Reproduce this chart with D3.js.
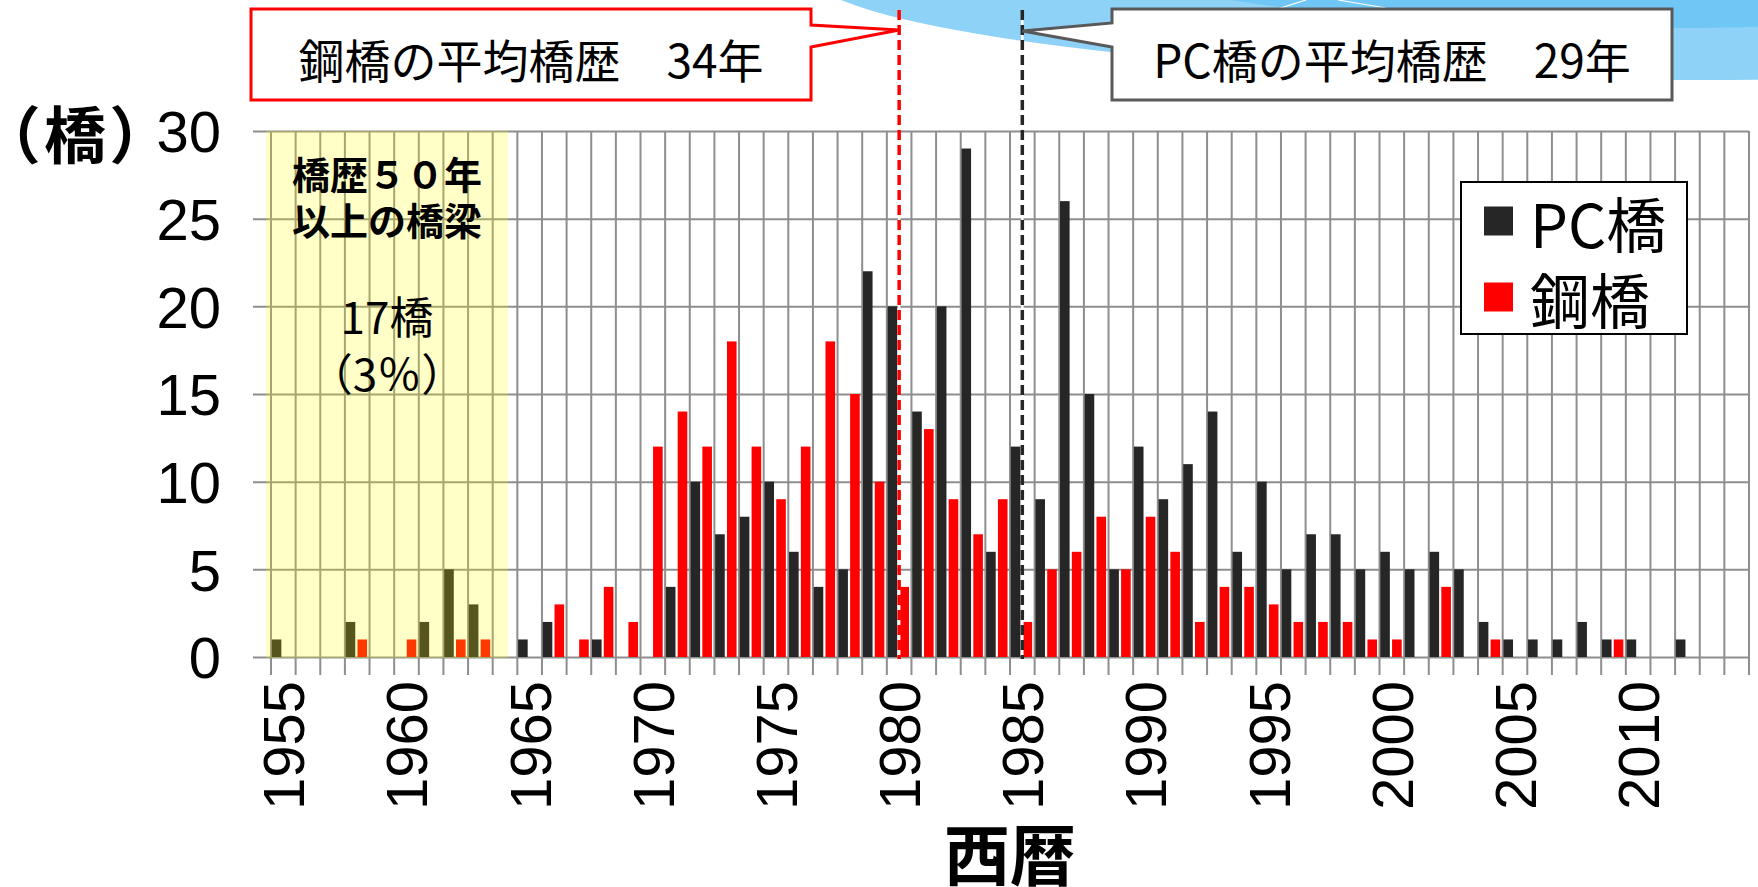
<!DOCTYPE html>
<html>
<head>
<meta charset="utf-8">
<script src="https://cdn.jsdelivr.net/npm/d3@7/dist/d3.min.js"></script>
<style>
body { margin: 0; background: #fff; }
</style>
</head>
<body>
<div id="chart"></div>
<script>
// 橋梁の架設年別分布 (PC橋 / 鋼橋)

var years = [1955, 1956, 1957, 1958, 1959, 1960, 1961, 1962, 1963, 1964,
  1965, 1966, 1967, 1968, 1969, 1970, 1971, 1972, 1973, 1974,
  1975, 1976, 1977, 1978, 1979, 1980, 1981, 1982, 1983, 1984,
  1985, 1986, 1987, 1988, 1989, 1990, 1991, 1992, 1993, 1994,
  1995, 1996, 1997, 1998, 1999, 2000, 2001, 2002, 2003, 2004,
  2005, 2006, 2007, 2008, 2009, 2010, 2011, 2012, 2013, 2014];

var pcBridges = [1, 0, 0, 2, 0, 0, 2, 5, 3, 0,
  1, 2, 0, 1, 0, 0, 4, 10, 7, 8,
  10, 6, 4, 5, 22, 20, 14, 20, 29, 6,
  12, 9, 26, 15, 5, 12, 9, 11, 14, 6,
  10, 5, 7, 7, 5, 6, 5, 6, 5, 2,
  1, 1, 1, 2, 1, 1, 0, 1, 0, 0];

var steelBridges = [0, 0, 0, 1, 0, 1, 0, 1, 1, 0,
  0, 3, 1, 4, 2, 12, 14, 12, 18, 12,
  9, 12, 18, 15, 10, 4, 13, 9, 7, 9,
  2, 5, 6, 8, 5, 8, 6, 2, 4, 4,
  3, 2, 2, 2, 1, 1, 0, 4, 0, 1,
  0, 0, 0, 0, 1, 0, 0, 0, 0, 0];

var yearLabels = [1955, 1960, 1965, 1970, 1975, 1980, 1985, 1990, 1995, 2000, 2005, 2010];
var yTicks = [0, 5, 10, 15, 20, 25, 30];

var seriesNames = ["PC橋", "鋼橋"];
var seriesColors = ["#262626", "#ff0000"];

var steelAvgYear = 1980;
var pcAvgYear = 1985;
var steelAvgText = "鋼橋の平均橋歴　34年";
var pcAvgText = "PC橋の平均橋歴　29年";

var oldRange = [1955, 1964];
var oldTexts = ["橋歴５０年", "以上の橋梁"];
var oldCount = ["17橋", "（3％）"];

var svgWidth = 1758;
var svgHeight = 887;

var margin = {
  top: 131,
  right: 9,
  bottom: 230,
  left: 271
};

var width = svgWidth - margin.left - margin.right;
var height = svgHeight - margin.top - margin.bottom;

var numFont = "'Liberation Sans', Arial, sans-serif";
var gridColor = "#8e8e8e";

var svg = d3.select("#chart")
  .append("svg")
  .attr("width", svgWidth)
  .attr("height", svgHeight)
  .attr("font-family", "'Noto Sans CJK JP', sans-serif");

// background decoration (top right)
svg.append("ellipse")
  .attr("cx", 1700).attr("cy", -34)
  .attr("rx", 900).attr("ry", 114)
  .attr("fill", "#8fd2f7");
svg.append("ellipse")
  .attr("cx", 1660).attr("cy", -80)
  .attr("rx", 640).attr("ry", 108)
  .attr("fill", "#70c6f4");
svg.append("path")
  .attr("d", "M1268,12 L1306,0 M1338,0 L1386,8")
  .attr("stroke", "#fff").attr("stroke-width", 1.2).attr("fill", "none");

var chartGroup = svg.append("g")
  .attr("transform", `translate(${margin.left}, ${margin.top})`);

var xScale = d3.scaleBand()
  .domain(years)
  .range([0, width])
  .padding(0);

var yLinearScale = d3.scaleLinear()
  .domain([0, 30])
  .range([height, 0]);

var step = xScale.step();

var xSeries = d3.scaleBand()
  .domain(["pc", "steel"])
  .range([0.03 * step, 0.90 * step])
  .paddingInner(0.1875);

// horizontal gridlines (extend left as ticks)
chartGroup.append("g")
  .attr("transform", "translate(-18,0)")
  .call(d3.axisLeft(yLinearScale).tickValues(yTicks).tickSize(-(width + 18)).tickFormat(""))
  .call(g => g.select(".domain").remove())
  .selectAll("line")
  .attr("stroke", gridColor)
  .attr("stroke-width", 2);

// vertical gridlines at category boundaries
chartGroup.append("g")
  .selectAll("line")
  .data(years.concat(["end"]))
  .enter()
  .append("line")
  .attr("x1", d => d === "end" ? width : xScale(d))
  .attr("x2", d => d === "end" ? width : xScale(d))
  .attr("y1", 0)
  .attr("y2", height + 18)
  .attr("stroke", gridColor)
  .attr("stroke-width", 2);

// y axis labels
var leftAxis = chartGroup.append("g")
  .call(d3.axisLeft(yLinearScale).tickValues(yTicks).tickSize(0).tickPadding(50))
  .attr("font-size", 58)
  .attr("font-family", numFont);
leftAxis.select(".domain").remove();
leftAxis.selectAll("text").attr("dy", "0.36em").attr("fill", "#000");

// bars
chartGroup.append("g")
  .selectAll("rect")
  .data(years)
  .enter()
  .append("rect")
  .attr("x", (d, i) => xScale(d) + xSeries("pc"))
  .attr("y", (d, i) => yLinearScale(pcBridges[i]))
  .attr("width", xSeries.bandwidth())
  .attr("height", (d, i) => height - yLinearScale(pcBridges[i]))
  .attr("fill", seriesColors[0]);

chartGroup.append("g")
  .selectAll("rect")
  .data(years)
  .enter()
  .append("rect")
  .attr("x", (d, i) => xScale(d) + xSeries("steel"))
  .attr("y", (d, i) => yLinearScale(steelBridges[i]))
  .attr("width", xSeries.bandwidth())
  .attr("height", (d, i) => height - yLinearScale(steelBridges[i]))
  .attr("fill", seriesColors[1]);

// x axis labels (rotated)
var bottomAxis = chartGroup.append("g")
  .attr("transform", `translate(0, ${height})`)
  .call(d3.axisBottom(xScale).tickValues(yearLabels).tickSize(0))
  .attr("font-size", 58)
  .attr("font-family", numFont);
bottomAxis.select(".domain").remove();
bottomAxis.selectAll("text")
  .attr("transform", "rotate(-90)")
  .attr("x", -24)
  .attr("y", 0)
  .attr("dy", "0.36em")
  .attr("fill", "#000")
  .style("text-anchor", "end");

// shaded area: bridges 50+ years old
var shadeX0 = xScale(oldRange[0]) - 0.2 * step;
var shadeX1 = xScale(oldRange[1]) + 0.62 * step;
chartGroup.append("rect")
  .attr("x", shadeX0)
  .attr("y", 0)
  .attr("width", shadeX1 - shadeX0)
  .attr("height", height + 1)
  .attr("fill", "#ffff00")
  .attr("opacity", 0.22);

var shadeMid = (shadeX0 + shadeX1) / 2;
chartGroup.selectAll(".oldTitle")
  .data(oldTexts)
  .enter()
  .append("text")
  .attr("class", "oldTitle")
  .attr("x", shadeMid)
  .attr("y", (d, i) => 41 + i * 46)
  .attr("text-anchor", "middle")
  .attr("dominant-baseline", "central")
  .attr("font-size", 38)
  .attr("font-weight", "bold")
  .text(d => d);

chartGroup.selectAll(".oldCount")
  .data(oldCount)
  .enter()
  .append("text")
  .attr("class", "oldCount")
  .attr("x", shadeMid)
  .attr("y", (d, i) => 184 + i * 57)
  .attr("text-anchor", "middle")
  .attr("dominant-baseline", "central")
  .attr("font-size", 44)
  .text(d => d);

// average-age lines
function avgLine(year, color) {
  var x = xScale(year) + step / 2;
  chartGroup.append("line")
    .attr("x1", x).attr("x2", x)
    .attr("y1", 10 - margin.top).attr("y2", height + 2)
    .attr("stroke", "#fff").attr("stroke-width", 2.5);
  chartGroup.append("line")
    .attr("x1", x).attr("x2", x)
    .attr("y1", 10 - margin.top).attr("y2", height + 2)
    .attr("stroke", color).attr("stroke-width", 3.5)
    .attr("stroke-dasharray", "10,5");
  return x + margin.left;
}
var steelX = avgLine(steelAvgYear, "#ff0000");
var pcX = avgLine(pcAvgYear, "#262626");

// callouts
svg.append("path")
  .attr("d", `M251,9 H811 V25 L${steelX},30 L811,47 V100 H251 Z`)
  .attr("fill", "#fff")
  .attr("stroke", "#ff0000")
  .attr("stroke-width", 3)
  .attr("stroke-linejoin", "miter");
svg.append("text")
  .attr("x", 531).attr("y", 58)
  .attr("text-anchor", "middle")
  .attr("dominant-baseline", "central")
  .attr("font-size", 46)
  .text(steelAvgText);

svg.append("path")
  .attr("d", `M1112,9 H1672 V100 H1112 V47 L${pcX},31 L1112,23 Z`)
  .attr("fill", "#fff")
  .attr("stroke", "#595959")
  .attr("stroke-width", 3);
svg.append("text")
  .attr("x", 1392).attr("y", 58)
  .attr("text-anchor", "middle")
  .attr("dominant-baseline", "central")
  .attr("font-size", 46)
  .text(pcAvgText);

// legend
var legend = svg.append("g").attr("transform", "translate(1461,182)");
legend.append("rect")
  .attr("width", 226).attr("height", 152)
  .attr("fill", "#fff").attr("stroke", "#000").attr("stroke-width", 2);
var items = legend.selectAll(".item")
  .data(seriesNames)
  .enter()
  .append("g")
  .attr("transform", (d, i) => `translate(0, ${39 + i * 76})`);
items.append("rect")
  .attr("x", 23).attr("y", -14.5)
  .attr("width", 29).attr("height", 29)
  .attr("fill", (d, i) => seriesColors[i]);
items.append("text")
  .attr("x", 69).attr("y", 0)
  .attr("dominant-baseline", "central")
  .attr("font-size", 60)
  .text(d => d);

// axis titles
svg.append("text")
  .attr("x", 78).attr("y", 132)
  .attr("text-anchor", "middle")
  .attr("dominant-baseline", "central")
  .attr("font-size", 62)
  .attr("font-weight", "bold")
  .attr("letter-spacing", 6)
  .style("font-feature-settings", "'palt'")
  .text("（橋）");

svg.append("text")
  .attr("x", margin.left + width / 2).attr("y", 851)
  .attr("text-anchor", "middle")
  .attr("dominant-baseline", "central")
  .attr("font-size", 66)
  .attr("font-weight", "bold")
  .text("西暦");
</script>
</body>
</html>
